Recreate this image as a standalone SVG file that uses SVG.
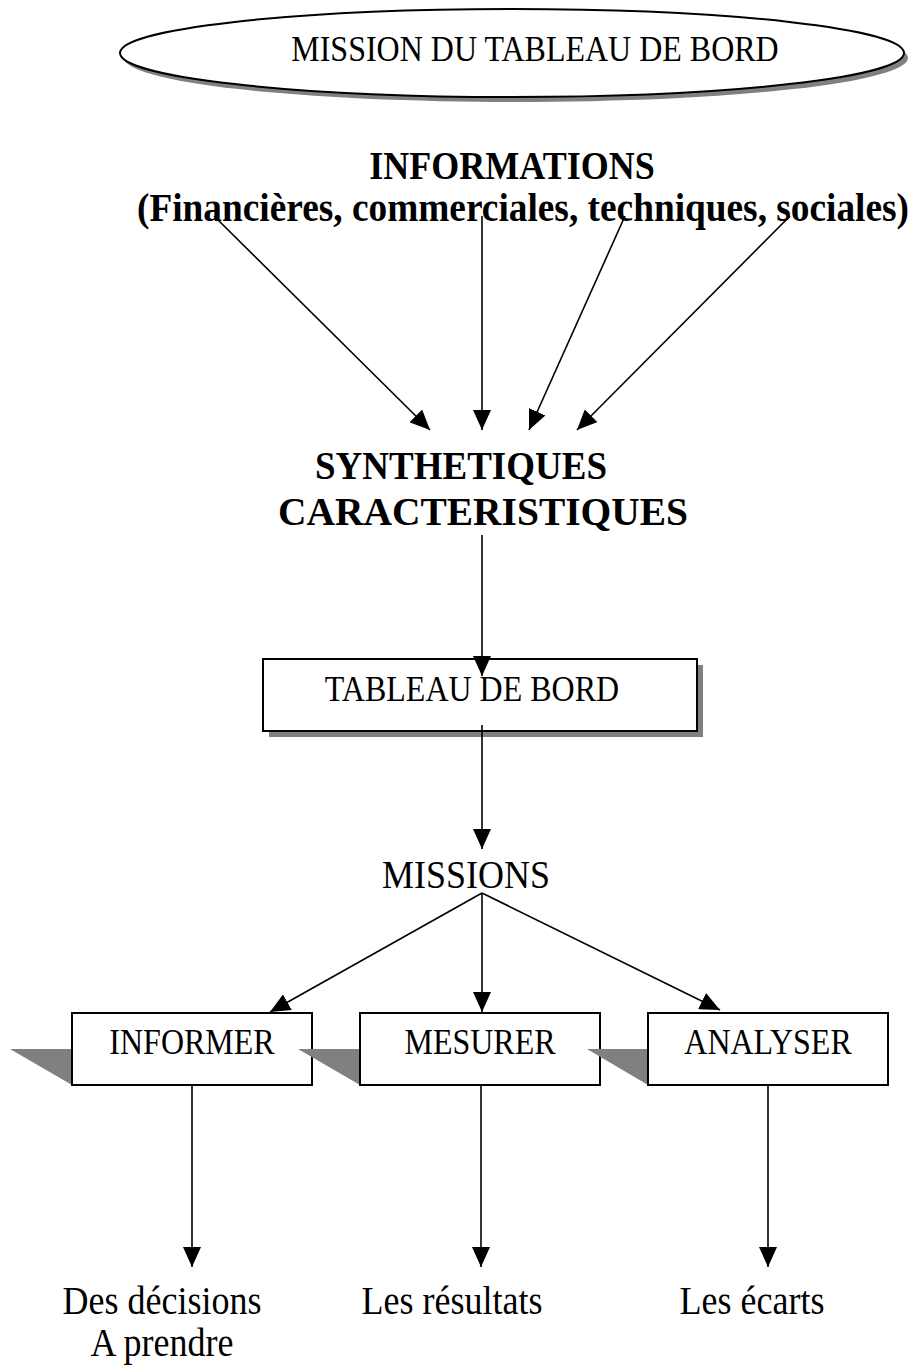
<svg xmlns="http://www.w3.org/2000/svg" width="912" height="1367" viewBox="0 0 912 1367">
<style>
text{font-family:"Liberation Serif","Times New Roman",serif;fill:#000;text-anchor:middle}
.b{font-weight:bold;font-size:36px}
.r{font-size:32px}
.l{font-size:36px}
.box{fill:#fff;stroke:#000;stroke-width:2}
.sh{fill:#808080}
.c line{stroke:#000;stroke-width:1.6}
</style>
<defs>
<marker id="ah" markerUnits="userSpaceOnUse" markerWidth="20" markerHeight="18" refX="20" refY="9" orient="auto">
<path d="M0,0 L20,9 L0,18 Z" fill="#000"/>
</marker>
</defs>
<g id="mission">
<ellipse class="sh" cx="516" cy="58" rx="392" ry="44"/>
<ellipse class="box" cx="512" cy="53" rx="392" ry="44"/>
<text class="r" transform="translate(535,61) scale(1,1.12)">MISSION DU TABLEAU DE BORD</text>
</g>
<g id="informations">
<text class="b" transform="translate(512,179) scale(1,1.12)">INFORMATIONS</text>
<text class="b" transform="translate(523,221) scale(1,1.12)" textLength="772" lengthAdjust="spacingAndGlyphs">(Financières, commerciales, techniques, sociales)</text>
</g>
<g id="synthetiques">
<text class="b" transform="translate(461,479) scale(1,1.12)" textLength="292" lengthAdjust="spacingAndGlyphs">SYNTHETIQUES</text>
<text class="b" transform="translate(483,525) scale(1,1.12)" textLength="410" lengthAdjust="spacingAndGlyphs">CARACTERISTIQUES</text>
</g>
<g id="tableau">
<rect class="sh" x="269" y="665" width="434" height="72"/>
<rect class="box" x="263" y="659" width="434" height="72"/>
<text class="r" transform="translate(472,701) scale(1,1.12)">TABLEAU DE BORD</text>
</g>
<g id="missions">
<text class="l" transform="translate(466,888) scale(1,1.12)">MISSIONS</text>
</g>
<g id="informer">
<path class="sh" d="M10,1049 L72,1049 L72,1085 Z"/>
<rect class="box" x="72" y="1013" width="240" height="72"/>
<text class="r" transform="translate(192,1054) scale(1,1.12)">INFORMER</text>
</g>
<g id="mesurer">
<path class="sh" d="M298,1049 L360,1049 L360,1085 Z"/>
<rect class="box" x="360" y="1013" width="240" height="72"/>
<text class="r" transform="translate(480,1054) scale(1,1.12)">MESURER</text>
</g>
<g id="analyser">
<path class="sh" d="M587,1049 L648,1049 L648,1085 Z"/>
<rect class="box" x="648" y="1013" width="240" height="72"/>
<text class="r" transform="translate(768,1054) scale(1,1.12)">ANALYSER</text>
</g>
<g id="decisions">
<text class="l" transform="translate(162,1314) scale(1,1.12)">Des décisions</text>
<text class="l" transform="translate(162,1356) scale(1,1.12)">A prendre</text>
</g>
<g id="resultats"><text class="l" transform="translate(452,1314) scale(1,1.12)">Les résultats</text></g>
<g id="ecarts"><text class="l" transform="translate(752,1314) scale(1,1.12)">Les écarts</text></g>
<g class="c" id="connectors">
<line x1="214" y1="216" x2="430" y2="430" marker-end="url(#ah)"/>
<line x1="482" y1="216" x2="482" y2="430" marker-end="url(#ah)"/>
<line x1="625" y1="216" x2="529" y2="430" marker-end="url(#ah)"/>
<line x1="790" y1="216" x2="577" y2="430" marker-end="url(#ah)"/>
<line x1="482" y1="535" x2="482" y2="676" marker-end="url(#ah)"/>
<line x1="482" y1="725" x2="482" y2="849" marker-end="url(#ah)"/>
<line x1="482" y1="893" x2="270" y2="1012" marker-end="url(#ah)"/>
<line x1="482" y1="893" x2="482" y2="1012" marker-end="url(#ah)"/>
<line x1="482" y1="893" x2="720" y2="1010" marker-end="url(#ah)"/>
<line x1="192" y1="1086" x2="192" y2="1267" marker-end="url(#ah)"/>
<line x1="481" y1="1086" x2="481" y2="1267" marker-end="url(#ah)"/>
<line x1="768" y1="1086" x2="768" y2="1267" marker-end="url(#ah)"/>
</g>
</svg>
